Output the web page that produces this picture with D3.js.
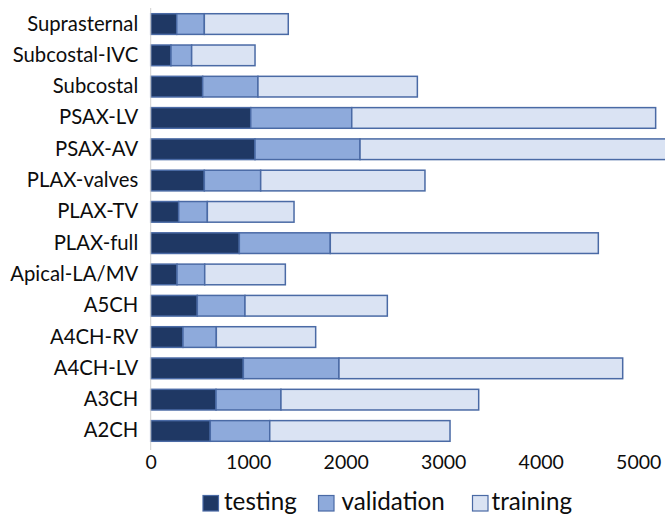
<!DOCTYPE html>
<html><head><meta charset="utf-8">
<script src="https://cdn.jsdelivr.net/npm/d3@7/dist/d3.min.js"></script>
<style>
html,body{margin:0;padding:0;background:#fff;}
svg{display:block;font-family:Lato, "Open Sans", sans-serif;}
</style></head>
<body>
<svg id="chart" width="665" height="514"></svg>
<script>
const categories = ["Suprasternal","Subcostal-IVC","Subcostal","PSAX-LV","PSAX-AV","PLAX-valves","PLAX-TV","PLAX-full","Apical-LA/MV","A5CH","A4CH-RV","A4CH-LV","A3CH","A2CH"];
const testing    = [267, 208, 533, 1026, 1070, 550, 287, 909, 270, 478, 331, 950, 670, 611];
const validation = [283, 212, 567, 1036, 1077, 578, 294, 933, 284, 489, 342, 981, 666, 610];
const training   = [861, 650, 1635, 3117, 3250, 1685, 889, 2749, 827, 1460, 1019, 2910, 2028, 1849];
const seriesNames = ["testing","validation","training"];
const tickValues = [0, 1000, 2000, 3000, 4000, 5000];

const colors = {testing:"#1f3864", validation:"#8eaadb", training:"#dae3f3"};
const strokeCol = "#4a6aa5";
const textCol = "#0d0d0d";

const svg = d3.select("#chart");
const x = d3.scaleLinear().domain([0, 5000]).range([150.7, 638.2]);
const y = d3.scaleBand().domain(categories).range([8.4, 446.6]).paddingInner(0.34).paddingOuter(0.17);

const rows = categories.map((c,i)=>({cat:c, testing:testing[i], validation:validation[i], training:training[i]}));
const stack = d3.stack().keys(seriesNames)(rows);

const g = svg.append("g");
stack.forEach(layer=>{
  g.selectAll(null).data(layer).enter().append("rect")
    .attr("x", d=>x(d[0]))
    .attr("y", d=>y(d.data.cat))
    .attr("width", d=>x(d[1])-x(d[0]))
    .attr("height", y.bandwidth())
    .attr("fill", colors[layer.key])
    .attr("stroke", strokeCol)
    .attr("stroke-width", 1.5);
});

// vertical axis line
svg.append("line").attr("x1", x(0)).attr("x2", x(0)).attr("y1", 8).attr("y2", 450)
  .attr("stroke", "#d0d0d0").attr("stroke-width", 1);

// category labels
const yAxis = d3.axisLeft(y).tickSize(0).tickPadding(12.5);
const ya = svg.append("g").attr("transform", `translate(${x(0)},0)`).call(yAxis);
ya.select(".domain").remove();
ya.selectAll("text").attr("font-size", 20.3).attr("fill", textCol).attr("font-family", "Lato, sans-serif");

// x tick labels
const xAxis = d3.axisBottom(x).tickValues(tickValues).tickSize(0).tickPadding(0).tickFormat(d3.format("d"));
const xa = svg.append("g").attr("transform", `translate(0,455)`).call(xAxis);
xa.select(".domain").remove();
xa.selectAll("text").attr("font-size", 19.5).attr("fill", textCol).attr("font-family", "Lato, sans-serif");

// legend
const legendItems = [
  {name:"testing", sx:203, tx:224},
  {name:"validation", sx:318.5, tx:341.5},
  {name:"training", sx:472.5, tx:491.5}
];
const lg = svg.append("g");
legendItems.forEach(it=>{
  lg.append("rect").attr("x", it.sx).attr("y", 495.5).attr("width", 15.5).attr("height", 15.5)
    .attr("fill", colors[it.name]).attr("stroke", strokeCol).attr("stroke-width", 1.2);
  lg.append("text").attr("x", it.tx).attr("y", 510).text(it.name)
    .attr("font-size", 24.2).attr("fill", textCol).attr("font-family", "Lato, sans-serif");
});
</script>
</body></html>
